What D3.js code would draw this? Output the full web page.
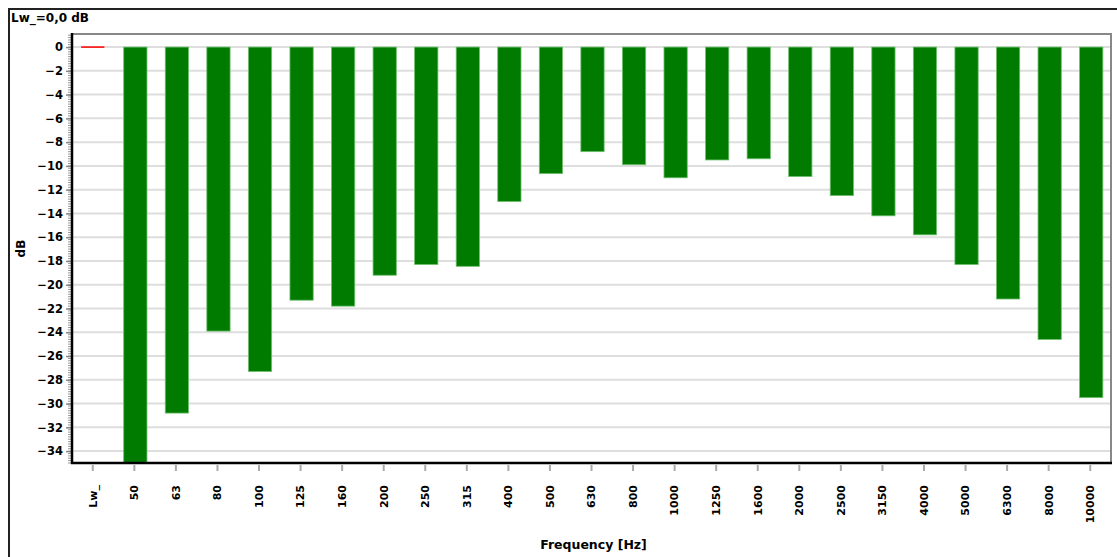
<!DOCTYPE html>
<html><head><meta charset="utf-8">
<script src="https://cdn.jsdelivr.net/npm/d3@7/dist/d3.min.js"></script>
<style>
html,body{margin:0;padding:0;background:#fff;}
svg{display:block;}
text{font-family:"DejaVu Sans",Verdana,sans-serif;font-weight:bold;fill:#000;}
</style></head>
<body><svg id="c" width="1117" height="557"></svg>
<script>
const categories = ["Lw_","50","63","80","100","125","160","200","250","315","400","500","630","800","1000","1250","1600","2000","2500","3150","4000","5000","6300","8000","10000"];
const values = [0,-35,-30.8,-23.9,-27.3,-21.3,-21.8,-19.2,-18.3,-18.45,-13.0,-10.65,-8.8,-9.9,-11.0,-9.5,-9.4,-10.9,-12.5,-14.2,-15.8,-18.3,-21.2,-24.6,-29.5];
const yTicks = [0,-2,-4,-6,-8,-10,-12,-14,-16,-18,-20,-22,-24,-26,-28,-30,-32,-34];
const titleText = "Lw_=0,0 dB";
const xTitle = "Frequency [Hz]";
const yTitle = "dB";

const svg = d3.select("#c");
const L = 72, R = 1111, T = 34, B = 463;

// outer frame (top & left visible)
svg.append("rect").attr("x",9).attr("y",9).attr("width",1200).attr("height",700)
  .attr("fill","none").attr("stroke","#222").attr("stroke-width",2);
svg.append("text").attr("x",11).attr("y",22).attr("font-size",12).text(titleText);

const x = d3.scaleBand().domain(categories).range([L,R]).paddingInner(0.44).paddingOuter(0.22);
const y = d3.scaleLinear().domain([-35,1.1]).range([B,T]);

// grid
svg.append("g").selectAll("line").data(yTicks).join("line")
  .attr("x1",L).attr("x2",R).attr("y1",d=>y(d)).attr("y2",d=>y(d))
  .attr("stroke","#dedede").attr("stroke-width",2);

// plot border (top/right gray)
svg.append("path").attr("d",`M${L},${T}H${R}V${B}`).attr("fill","none").attr("stroke","#888").attr("stroke-width",2);

// bars
const data = categories.map((c,i)=>({c,v:values[i]}));
svg.append("g").attr("transform","translate(1,0)").selectAll("rect").data(data.filter(d=>d.c!=="Lw_")).join("rect")
  .attr("x",d=>x(d.c)).attr("width",x.bandwidth())
  .attr("y",d=>y(Math.max(0,d.v))).attr("height",d=>Math.abs(y(d.v)-y(0)))
  .attr("fill","#007b00").attr("stroke","#6fc06f").attr("stroke-width",0.8);
svg.append("g").selectAll("line").data(data.filter(d=>d.c==="Lw_")).join("line")
  .attr("x1",d=>x(d.c)).attr("x2",d=>x(d.c)+x.bandwidth())
  .attr("y1",d=>y(d.v)).attr("y2",d=>y(d.v))
  .attr("stroke","#f00").attr("stroke-width",1.5);

// y axis minor ticks
const minor = d3.range(-35,1.1,0.2);
svg.append("g").selectAll("line").data(minor).join("line")
  .attr("x1",L-4).attr("x2",L).attr("y1",d=>y(d)).attr("y2",d=>y(d))
  .attr("stroke","#999").attr("stroke-width",1);

// y axis
const yAxis = d3.axisLeft(y).tickValues(yTicks).tickSize(6).tickPadding(3).tickFormat(d3.format("d"));
const gy = svg.append("g").attr("transform",`translate(${L},0)`).call(yAxis);
gy.select(".domain").remove();
gy.selectAll(".tick line").attr("stroke","#888").attr("stroke-width",1.5);
gy.selectAll(".tick text").attr("font-size",11.5).attr("font-family",null).attr("font-weight",null).attr("fill","#000");

// x axis
const xAxis = d3.axisBottom(x).tickSize(6).tickPadding(0);
const gx = svg.append("g").attr("transform",`translate(0,${B+2})`).call(xAxis);
gx.select(".domain").remove();
gx.selectAll(".tick line").attr("stroke","#aaa").attr("stroke-width",2);
gx.selectAll(".tick text").attr("font-size",11).attr("font-family",null).attr("font-weight",null).attr("fill","#000")
  .attr("text-anchor","end").attr("transform","translate(0,20) rotate(-90)").attr("x",0).attr("y",0).attr("dy","0.35em");

// axis lines
svg.append("line").attr("x1",L).attr("x2",L).attr("y1",T-1).attr("y2",B+1).attr("stroke","#000").attr("stroke-width",2.5);
svg.append("line").attr("x1",L-1).attr("x2",R+1).attr("y1",B).attr("y2",B).attr("stroke","#000").attr("stroke-width",2.5);

// titles
svg.append("text").attr("x",(L+R)/2+2).attr("y",549).attr("text-anchor","middle").attr("font-size",12.5).text(xTitle);
svg.append("text").attr("transform",`translate(25,${(T+B)/2}) rotate(-90)`).attr("text-anchor","middle").attr("font-size",12).text(yTitle);
</script></body></html>
